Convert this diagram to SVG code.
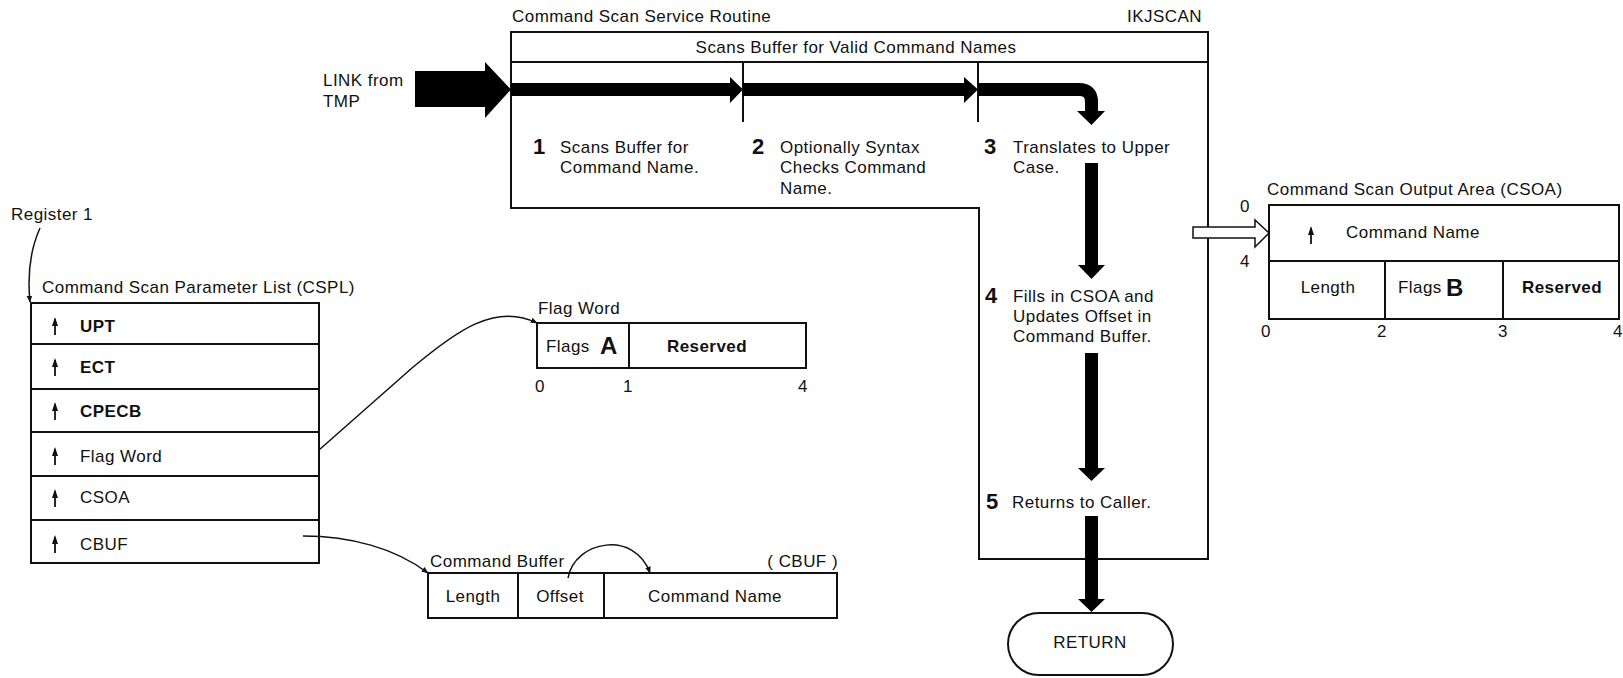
<svg xmlns="http://www.w3.org/2000/svg" xmlns:xlink="http://www.w3.org/1999/xlink" width="1623" height="678" viewBox="0 0 1623 678">
  <style>
    text { font-family: "Liberation Sans", Arial, sans-serif; font-size: 17px; letter-spacing: 0.45px; fill: #111; }
    .b { font-weight: bold; }
    .num { font-weight: bold; font-size: 22px; letter-spacing: 0; }
    .big { font-weight: bold; font-size: 24px; letter-spacing: 0; }
    .m { text-anchor: middle; }
    .e { text-anchor: end; }
    .box { fill: #fff; stroke: #111; stroke-width: 2; }
    .ln { fill: none; stroke: #111; stroke-width: 2; }
    .thin { fill: none; stroke: #111; stroke-width: 1.5; }
    .solid { fill: #000; stroke: none; }
    .shaft { fill: none; stroke: #000; stroke-width: 13; }
  </style>
  <defs>
    <marker id="tip" viewBox="0 0 10 10" refX="9" refY="5" markerWidth="7" markerHeight="7" markerUnits="userSpaceOnUse" orient="auto">
      <path d="M0,1 L10,5 L0,9 Z" fill="#111"/>
    </marker>
    <!-- small pointer glyph used in parameter-list rows -->
    <g id="up">
      <line x1="0" y1="0" x2="0" y2="-16" stroke="#111" stroke-width="1.8"/>
      <path d="M-3,-9 L0,-18 L3,-9 Z" fill="#111"/>
    </g>
  </defs>

  <!-- Command Scan Service Routine (IKJSCAN) -->
  <g id="ikjscan">
    <path class="box" d="M511,32 H1208 V559 H979 V208 H511 Z"/>
    <line class="ln" x1="511" y1="62" x2="1208" y2="62"/>
    <line class="ln" x1="743" y1="62" x2="743" y2="122"/>
    <line class="ln" x1="978" y1="62" x2="978" y2="122"/>
    <text x="512" y="22">Command Scan Service Routine</text>
    <text class="e" x="1202" y="22">IKJSCAN</text>
    <text class="m" x="856" y="53">Scans Buffer for Valid Command Names</text>
  </g>

  <g id="step1">
    <text class="num" x="533" y="154">1</text>
    <text x="560" y="153">Scans Buffer for</text>
    <text x="560" y="173">Command Name.</text>
  </g>
  <g id="step2">
    <text class="num" x="752" y="154">2</text>
    <text x="780" y="153">Optionally Syntax</text>
    <text x="780" y="173">Checks Command</text>
    <text x="780" y="194">Name.</text>
  </g>
  <g id="step3">
    <text class="num" x="984" y="154">3</text>
    <text x="1013" y="153">Translates to Upper</text>
    <text x="1013" y="173">Case.</text>
  </g>
  <g id="step4">
    <text class="num" x="985" y="303">4</text>
    <text x="1013" y="302">Fills in CSOA and</text>
    <text x="1013" y="322">Updates Offset in</text>
    <text x="1013" y="342">Command Buffer.</text>
  </g>
  <g id="step5">
    <text class="num" x="986" y="509">5</text>
    <text x="1012" y="508">Returns to Caller.</text>
  </g>

  <g id="link-from-tmp">
    <text x="323" y="86">LINK from</text>
    <text x="323" y="107">TMP</text>
  </g>

  <g id="return">
    <rect class="box" x="1008" y="613" width="165" height="62" rx="31" ry="31"/>
    <text class="m" x="1090" y="648">RETURN</text>
  </g>

  <!-- Command Scan Output Area -->
  <g id="csoa">
    <text x="1267" y="195">Command Scan Output Area (CSOA)</text>
    <rect class="box" x="1269" y="205" width="350" height="114"/>
    <line class="ln" x1="1269" y1="261" x2="1619" y2="261"/>
    <line class="ln" x1="1385" y1="261" x2="1385" y2="319"/>
    <line class="ln" x1="1503" y1="261" x2="1503" y2="319"/>
    <text x="1240" y="212">0</text>
    <text x="1240" y="267">4</text>
    <use xlink:href="#up" x="1311" y="244"/>
    <text x="1346" y="238">Command Name</text>
    <text class="m" x="1328" y="293">Length</text>
    <text x="1398" y="293">Flags</text>
    <text class="big" x="1446" y="296">B</text>
    <text class="m b" x="1562" y="293">Reserved</text>
    <text class="m" x="1266" y="337">0</text>
    <text class="m" x="1382" y="337">2</text>
    <text class="m" x="1503" y="337">3</text>
    <text class="e" x="1623" y="337">4</text>
  </g>

  <!-- Command Scan Parameter List -->
  <g id="cspl">
    <text x="11" y="220">Register 1</text>
    <text x="42" y="293">Command Scan Parameter List (CSPL)</text>
    <rect class="box" x="31" y="303" width="288" height="260"/>
    <line class="ln" x1="31" y1="344" x2="319" y2="344"/>
    <line class="ln" x1="31" y1="389" x2="319" y2="389"/>
    <line class="ln" x1="31" y1="432" x2="319" y2="432"/>
    <line class="ln" x1="31" y1="476" x2="319" y2="476"/>
    <line class="ln" x1="31" y1="520" x2="319" y2="520"/>
    <use xlink:href="#up" x="55" y="335"/>
    <use xlink:href="#up" x="55" y="376"/>
    <use xlink:href="#up" x="55" y="420"/>
    <use xlink:href="#up" x="55" y="465"/>
    <use xlink:href="#up" x="55" y="507"/>
    <use xlink:href="#up" x="55" y="553"/>
    <text class="b" x="80" y="332">UPT</text>
    <text class="b" x="80" y="373">ECT</text>
    <text class="b" x="80" y="417">CPECB</text>
    <text x="80" y="462">Flag Word</text>
    <text x="80" y="503">CSOA</text>
    <text x="80" y="550">CBUF</text>
  </g>

  <!-- Flag Word -->
  <g id="flag-word">
    <text x="538" y="314">Flag Word</text>
    <rect class="box" x="537" y="323" width="269" height="45"/>
    <line class="ln" x1="629" y1="323" x2="629" y2="368"/>
    <text x="546" y="352">Flags</text>
    <text class="big" x="600" y="354">A</text>
    <text class="m b" x="707" y="352">Reserved</text>
    <text class="m" x="540" y="392">0</text>
    <text class="m" x="628" y="392">1</text>
    <text class="m" x="803" y="392">4</text>
  </g>

  <!-- Command Buffer -->
  <g id="cbuf">
    <text x="430" y="567">Command Buffer</text>
    <text class="e" x="838" y="567">( CBUF )</text>
    <rect class="box" x="428" y="573" width="409" height="45"/>
    <line class="ln" x1="518" y1="573" x2="518" y2="618"/>
    <line class="ln" x1="604" y1="573" x2="604" y2="618"/>
    <text class="m" x="473" y="602">Length</text>
    <text class="m" x="560" y="602">Offset</text>
    <text class="m" x="715" y="602">Command Name</text>
  </g>

  <!-- connectors -->
  <g id="connectors">
    <!-- LINK from TMP -->
    <path class="solid" d="M415,71 H485 V62 L511,89.5 L485,118 V107 H415 Z"/>
    <!-- flow 1 -> 2 -> 3 -->
    <path class="solid" d="M511,83 H730 V77 L743,89.5 L730,103 V96 H511 Z"/>
    <path class="solid" d="M743,83 H964 V77 L978,89.5 L964,103 V96 H743 Z"/>
    <path class="shaft" d="M978,89.5 H1079 Q1091.5,89.5 1091.5,102 V112"/>
    <path class="solid" d="M1077,111 H1105 L1091.5,125 Z"/>
    <!-- 3 -> 4 -->
    <rect class="solid" x="1085" y="163" width="13" height="103"/>
    <path class="solid" d="M1078,265 H1105 L1091.5,279 Z"/>
    <!-- 4 -> 5 -->
    <rect class="solid" x="1085" y="353" width="13" height="116"/>
    <path class="solid" d="M1078,468 H1105 L1091.5,481 Z"/>
    <!-- 5 -> RETURN -->
    <rect class="solid" x="1085" y="516" width="13" height="84"/>
    <path class="solid" d="M1078,599 H1105 L1091.5,612 Z"/>
    <!-- output to CSOA -->
    <path fill="#fff" stroke="#111" stroke-width="1.5" d="M1193,227 H1255 V220 L1269,233 L1255,247 V238 H1193 Z"/>
    <!-- Register 1 -> CSPL -->
    <path class="thin" marker-end="url(#tip)" d="M40,228 C31,248 27,272 30,302"/>
    <!-- CSPL Flag Word -> Flag Word -->
    <path class="thin" marker-end="url(#tip)" d="M319,450 L412,368 C455,332 495,302 537,323"/>
    <!-- CSPL CBUF -> Command Buffer -->
    <path class="thin" marker-end="url(#tip)" d="M303,536 C350,536 395,548 428,573"/>
    <!-- Offset -> Command Name -->
    <path class="thin" marker-end="url(#tip)" d="M568,578 C575,540 635,530 650,573"/>
  </g>
</svg>
